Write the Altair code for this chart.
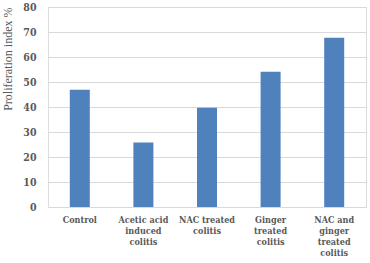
import altair as alt
import pandas as pd

categories = ["Control", "Acetic acid|induced|colitis", "NAC treated|colitis",
              "Ginger|treated|colitis", "NAC and|ginger|treated|colitis"]
values = [46.9, 25.8, 39.7, 54.1, 67.7]
y_ticks = [0, 10, 20, 30, 40, 50, 60, 70, 80]

df = pd.DataFrame({"group": categories, "value": values})

text_color = "#595959"
bold_font = "DejaVu Serif Condensed"

chart = alt.Chart(df).mark_bar(size=20, color="#4f81bd").encode(
    x=alt.X("group:N", sort=None, title=None,
            scale=alt.Scale(paddingInner=0, paddingOuter=0),
            axis=alt.Axis(labelExpr="split(datum.label, '|')", labelAngle=0,
                          labelFont=bold_font, labelFontWeight="bold",
                          labelFontSize=9, labelColor=text_color,
                          labelLineHeight=11, labelPadding=8,
                          ticks=False, domain=False, grid=False)),
    y=alt.Y("value:Q", title="Proliferation index %",
            scale=alt.Scale(domain=[0, 80], nice=False),
            axis=alt.Axis(values=y_ticks, labelFont=bold_font,
                          labelFontWeight="bold", labelFontSize=10.5,
                          labelColor=text_color, labelPadding=12,
                          ticks=False, domain=False,
                          gridColor="#d9d9d9", gridWidth=1,
                          titleFont="Liberation Serif", titleFontSize=12,
                          titleFontWeight="normal", titleColor=text_color,
                          titleAnchor="end", titlePadding=8)),
).properties(
    width=318, height=200,
    autosize=alt.AutoSizeParams(type="none"),
    padding={"left": 48, "top": 7, "right": 4, "bottom": 56},
).configure_view(stroke=None).configure(background="white")

chart.save("out.html", embed_options={"renderer": "svg", "actions": False})
